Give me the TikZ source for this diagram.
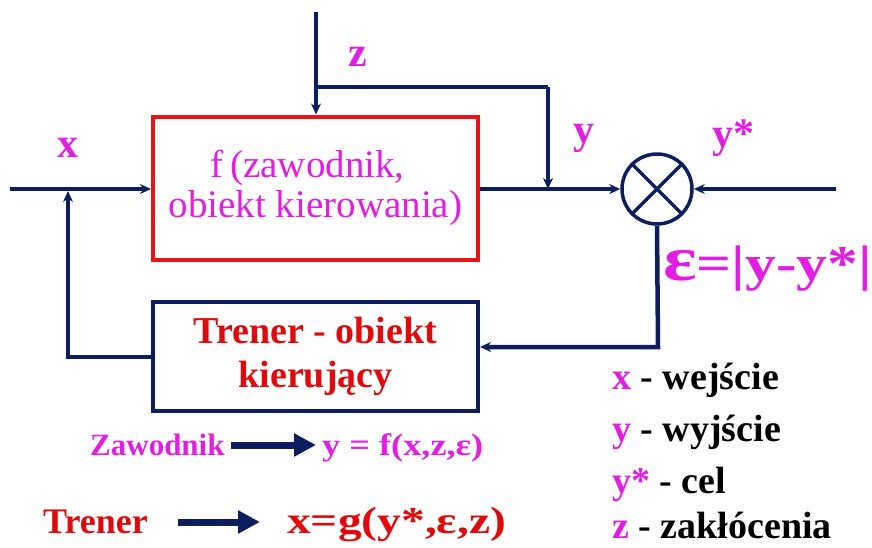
\documentclass[tikz,border=0pt]{standalone}
\usepackage{fontspec}
\setmainfont{Liberation Serif}
\usetikzlibrary{arrows.meta,calc}
\definecolor{navy}{RGB}{12,30,95}
\definecolor{mag}{RGB}{225,30,225}
\definecolor{rd}{RGB}{225,10,10}
\definecolor{boxred}{RGB}{235,20,20}
\tikzset{
  conn/.style={navy,line width=4.5pt},
  arr/.style={conn,-{Stealth[length=11pt,width=10pt]}},
  bigarr/.style={conn,line width=7pt,-{Triangle[length=22pt,width=22pt]}},
  fbox/.style={draw=boxred,line width=4pt,minimum width=325pt,minimum height=143pt,align=center,text=mag,font=\fontsize{39}{40}\selectfont},
  tbox/.style={draw=navy,line width=4pt,minimum width=325pt,minimum height=109pt,align=center,text=rd,font=\fontsize{38}{44}\selectfont\bfseries},
  lbl/.style={text=mag,font=\fontsize{42}{44}\selectfont\bfseries,inner sep=0pt},
  leg/.style={anchor=base west,inner sep=0pt,font=\fontsize{38}{38}\selectfont\bfseries},
  frm/.style={anchor=base west,inner sep=0pt},
}
\begin{document}
\begin{tikzpicture}[x=1pt,y=-1pt]
\useasboundingbox (0,0) rectangle (872,547);
% blocks
\node[fbox] (f) at (315.5,188) {f\,(zawodnik,\hspace*{0.4em}\\obiekt kierowania)};
\node[tbox] (tr) at (315.5,356.5) {Trener - obiekt\\kierujący};
\node[draw=navy,line width=3.5pt,circle,minimum size=70pt,inner sep=0pt] (cmp) at (657,189) {};
\draw[navy,line width=3.5pt] (cmp.north west) -- (cmp.south east) (cmp.north east) -- (cmp.south west);
% coordinates
\coordinate (in) at (10,189);
\coordinate (ztop) at (316,12);
\coordinate (zb) at (316,87);
\coordinate (br) at (548,87);
\coordinate (brend) at (548,189);
\coordinate (ys) at (836,189);
\coordinate (c1) at (658,347);
\coordinate (fb1) at (68,357);
\coordinate (fb2) at (68,191);
% connectors
\draw[arr] (in) -- (f.west |- in);
\draw[arr] (ztop) -- (ztop |- f.north);
\draw[conn] (zb) -- (br);
\draw[arr] (br) -- (brend);
\draw[arr] (f.east |- in) -- (cmp.west);
\draw[arr] (ys) -- (cmp.east);
\draw[arr] (cmp.south) -- (c1) -- (tr.east |- c1);
\draw[arr] (tr.west |- fb1) -- (fb1) -- (fb2);
% labels
\node[lbl] (lx) at (68,148) {x};
\node[lbl] (lz) at (358,57) {z};
\node[lbl] (ly) at (584,138) {y};
\node[lbl] (lys) at (733,138) {y*};
\node[text=mag,font=\fontsize{50}{50}\selectfont\bfseries,anchor=base west,inner sep=0pt] (eps) at (663,280) {\scalebox{1.23}[1]{{\fontsize{64}{64}\selectfont ε}=|y-y*|}};
% legend
\node[leg] (l1) at (612,389) {\textcolor{mag}{x} - wejście};
\node[leg] (l2) at (612,441) {\textcolor{mag}{y} - wyjście};
\node[leg] (l3) at (612,493) {\textcolor{mag}{y*} - cel};
\node[leg] (l4) at (612,538) {\textcolor{mag}{z} - zakłócenia};
% formulas
\node[frm,text=mag,font=\fontsize{31}{33}\selectfont\bfseries] (zaw) at (90,455) {Zawodnik};
\node[frm,text=mag,font=\fontsize{31}{33}\selectfont\bfseries] (zf) at (322,455) {\scalebox{1.17}[1]{y = f(x,z,ε)}};
\coordinate (za) at (231,445);
\coordinate (zbb) at (316,445);
\draw[bigarr] (za) -- (zbb);
\node[frm,text=rd,font=\fontsize{36}{38}\selectfont\bfseries] (trn) at (43,533) {Trener};
\node[frm,text=rd,font=\fontsize{38}{38}\selectfont\bfseries] (tf) at (287,533) {\scalebox{1.25}[1]{x=g(y*,ε,z)}};
\coordinate (ta) at (178,522);
\coordinate (tb) at (260,522);
\draw[bigarr] (ta) -- (tb);
\end{tikzpicture}
\end{document}
